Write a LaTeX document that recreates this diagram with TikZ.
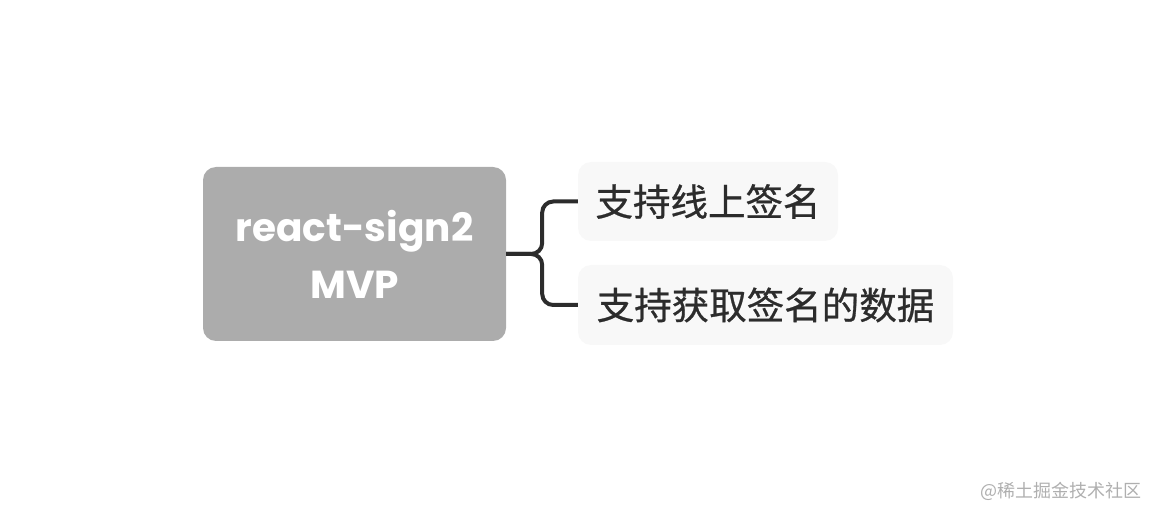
\documentclass[tikz,border=0pt]{standalone}
\usepackage{fontspec}
\newfontfamily\cjk{Noto Sans CJK SC}
\newfontfamily\cjkmed{Noto Sans CJK SC}[FakeBold=0.7]
\newfontfamily\titlefont{Poppins}
\usetikzlibrary{positioning,calc}
\definecolor{rootfill}{RGB}{172,172,172}
\definecolor{leaffill}{RGB}{248,248,248}
\definecolor{inkcolor}{RGB}{44,44,44}
\definecolor{markcolor}{RGB}{175,175,175}
\tikzset{
  rootbox/.style={fill=rootfill, rounded corners=13pt, text=white, align=center,
    font=\titlefont\bfseries\fontsize{39}{57}\selectfont, inner sep=0pt},
  leafbox/.style={fill=leaffill, rounded corners=13pt, text=inkcolor,
    font=\cjkmed\fontsize{37.5}{40}\selectfont, inner sep=0pt, minimum height=79pt},
  branchln/.style={draw=inkcolor, line width=4pt, rounded corners=11pt},
}

\begin{document}
\begin{tikzpicture}[x=1pt, y=-1pt]
  \useasboundingbox (0,0) rectangle (1156,518);
  % root topic
  \node[rootbox, minimum width=303pt, minimum height=174pt] (root) at (354.5,254)
    {react-sign2\\MVP};
  % sub topics
  \node[leafbox, minimum width=260pt] (online) at (708,201.5) {支持线上签名};
  \node[leafbox, minimum width=375pt, minimum height=80pt] (fetch) at (765.5,305)
    {支持获取签名的数据};
  % branches
  \coordinate (fork) at ($(root.east)+(36,0)$);
  \draw[branchln] (root.east) -- (fork) |- (online.west);
  \draw[branchln] (root.east) -- (fork) |- (fetch.west);
  % watermark
  \node[text=markcolor, font=\cjk\fontsize{18}{20}\selectfont, anchor=east] (mark)
    at (1145,491) {@稀土掘金技术社区};
\end{tikzpicture}
\end{document}
